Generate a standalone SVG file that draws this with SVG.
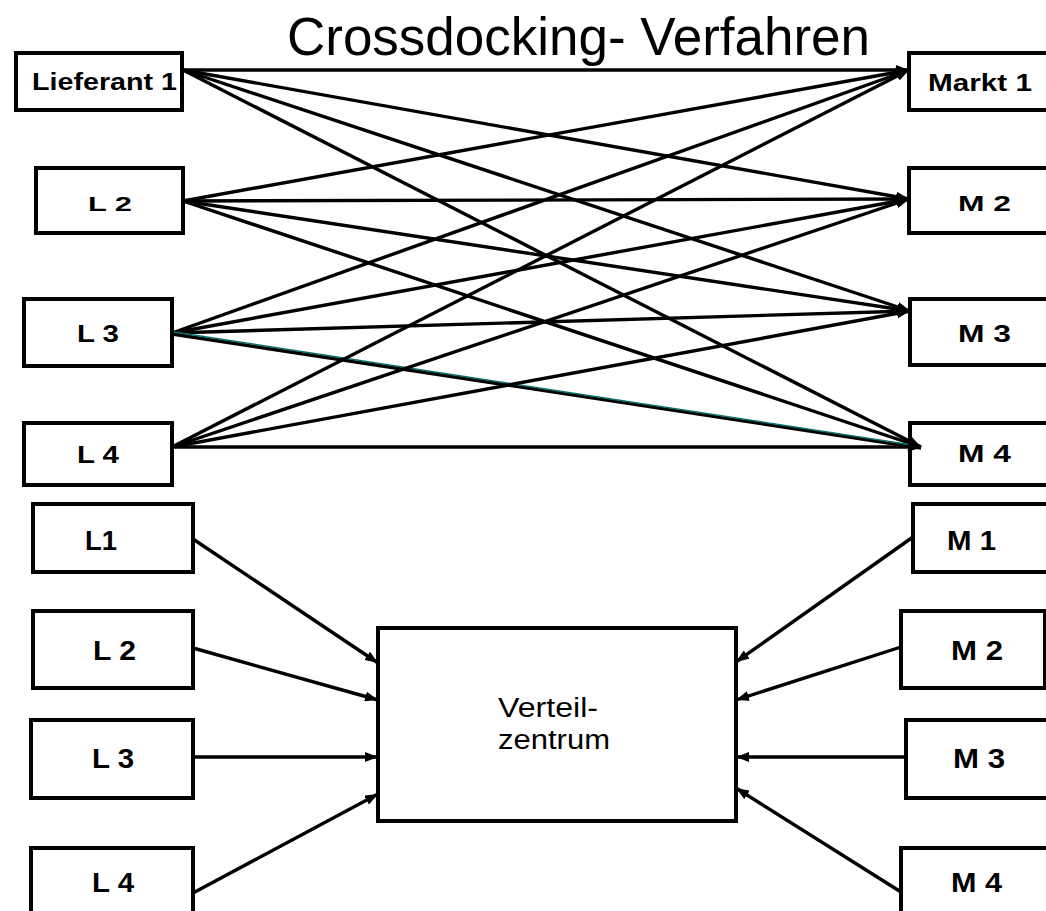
<svg xmlns="http://www.w3.org/2000/svg" width="1046" height="911" viewBox="0 0 1046 911">
<style>
.box{fill:#fff;stroke:#000;stroke-width:4}
.lbl{font-family:"Liberation Sans",Arial,sans-serif;font-weight:bold;fill:#000}
.reg{font-family:"Liberation Sans",Arial,sans-serif;fill:#000}
.ln{stroke:#000;stroke-width:3.4;fill:none;marker-end:url(#arr)}
</style>
<defs>
<marker id="arr" markerUnits="userSpaceOnUse" markerWidth="13" markerHeight="10" refX="13" refY="5" orient="auto">
<path d="M0,0 L13,5 L0,10 z" fill="#000"/>
</marker>
</defs>
<rect width="1046" height="911" fill="#fff"/>
<text class="reg" x="287" y="55" font-size="54" textLength="583" lengthAdjust="spacingAndGlyphs">Crossdocking- Verfahren</text>

<g id="lieferant1"><rect class="box" x="16" y="53" width="166" height="57"/><text class="lbl" x="32" y="90" font-size="24" textLength="145" lengthAdjust="spacingAndGlyphs">Lieferant 1</text></g>
<g id="l2top"><rect class="box" x="36" y="168" width="147" height="65"/><text class="lbl" x="88" y="211" font-size="21" textLength="44" lengthAdjust="spacingAndGlyphs">L 2</text></g>
<g id="l3top"><rect class="box" x="24" y="299" width="148" height="67"/><text class="lbl" x="77" y="342" font-size="23" textLength="42" lengthAdjust="spacingAndGlyphs">L 3</text></g>
<g id="l4top"><rect class="box" x="24" y="423" width="148" height="62"/><text class="lbl" x="77" y="463" font-size="23" textLength="42" lengthAdjust="spacingAndGlyphs">L 4</text></g>

<g id="markt1"><rect class="box" x="909" y="53" width="150" height="57"/><text class="lbl" x="928" y="91" font-size="24" textLength="104" lengthAdjust="spacingAndGlyphs">Markt 1</text></g>
<g id="m2top"><rect class="box" x="909" y="168" width="150" height="65"/><text class="lbl" x="958" y="211" font-size="22" textLength="53" lengthAdjust="spacingAndGlyphs">M 2</text></g>
<g id="m3top"><rect class="box" x="910" y="299" width="150" height="66"/><text class="lbl" x="958" y="342" font-size="23" textLength="53" lengthAdjust="spacingAndGlyphs">M 3</text></g>
<g id="m4top"><rect class="box" x="910" y="423" width="150" height="62"/><text class="lbl" x="958" y="462" font-size="23" textLength="53" lengthAdjust="spacingAndGlyphs">M 4</text></g>

<g id="l1"><rect class="box" x="33" y="504" width="160" height="68"/><text class="lbl" x="85" y="550" font-size="28" textLength="32" lengthAdjust="spacingAndGlyphs">L1</text></g>
<g id="l2"><rect class="box" x="33" y="611" width="160" height="77"/><text class="lbl" x="93" y="660" font-size="28" textLength="43" lengthAdjust="spacingAndGlyphs">L 2</text></g>
<g id="l3"><rect class="box" x="31" y="720" width="162" height="78"/><text class="lbl" x="92" y="768" font-size="28" textLength="42" lengthAdjust="spacingAndGlyphs">L 3</text></g>
<g id="l4"><rect class="box" x="31" y="848" width="162" height="80"/><text class="lbl" x="92" y="892" font-size="28" textLength="42" lengthAdjust="spacingAndGlyphs">L 4</text></g>

<g id="m1"><rect class="box" x="913" y="504" width="150" height="68"/><text class="lbl" x="947" y="550" font-size="28" textLength="49" lengthAdjust="spacingAndGlyphs">M 1</text></g>
<g id="m2"><rect class="box" x="901" y="611" width="144" height="77"/><text class="lbl" x="951" y="660" font-size="28" textLength="52" lengthAdjust="spacingAndGlyphs">M 2</text></g>
<g id="m3"><rect class="box" x="906" y="720" width="150" height="78"/><text class="lbl" x="953" y="768" font-size="28" textLength="52" lengthAdjust="spacingAndGlyphs">M 3</text></g>
<g id="m4"><rect class="box" x="901" y="848" width="150" height="80"/><text class="lbl" x="951" y="892" font-size="28" textLength="51" lengthAdjust="spacingAndGlyphs">M 4</text></g>

<g id="verteilzentrum"><rect class="box" x="378" y="628" width="358" height="193"/>
<text class="reg" x="498" y="717" font-size="27" textLength="100" lengthAdjust="spacingAndGlyphs">Verteil-</text>
<text class="reg" x="498" y="749" font-size="27" textLength="112" lengthAdjust="spacingAndGlyphs">zentrum</text></g>

<g id="connectors">
<line class="ln" x1="183" y1="70" x2="909" y2="70"/>
<line class="ln" x1="183" y1="70" x2="909" y2="199"/>
<line class="ln" x1="183" y1="70" x2="910" y2="311"/>
<line class="ln" x1="183" y1="70" x2="921" y2="447"/>
<line class="ln" x1="183" y1="201" x2="909" y2="70"/>
<line class="ln" x1="183" y1="201" x2="909" y2="199"/>
<line class="ln" x1="183" y1="201" x2="910" y2="311"/>
<line class="ln" x1="183" y1="201" x2="921" y2="447"/>
<line class="ln" x1="172" y1="333" x2="909" y2="70"/>
<line class="ln" x1="172" y1="333" x2="909" y2="199"/>
<line class="ln" x1="172" y1="333" x2="910" y2="311"/>
<line class="ln" x1="172" y1="334" x2="921" y2="448"/>
<line x1="174" y1="332" x2="912" y2="445" stroke="#0a7070" stroke-width="1.5"/>
<line class="ln" x1="172" y1="447" x2="909" y2="70"/>
<line class="ln" x1="172" y1="447" x2="909" y2="199"/>
<line class="ln" x1="172" y1="447" x2="910" y2="311"/>
<line class="ln" x1="172" y1="447" x2="921" y2="447" stroke-width="4"/>

<line class="ln" x1="193" y1="539" x2="378" y2="663"/>
<line class="ln" x1="193" y1="648" x2="378" y2="700"/>
<line class="ln" x1="193" y1="757" x2="378" y2="757"/>
<line class="ln" x1="193" y1="893" x2="378" y2="794"/>
<line class="ln" x1="913" y1="537" x2="736" y2="662"/>
<line class="ln" x1="901" y1="647" x2="736" y2="700"/>
<line class="ln" x1="906" y1="757" x2="736" y2="757"/>
<line class="ln" x1="901" y1="892" x2="736" y2="788"/>
</g>
</svg>
